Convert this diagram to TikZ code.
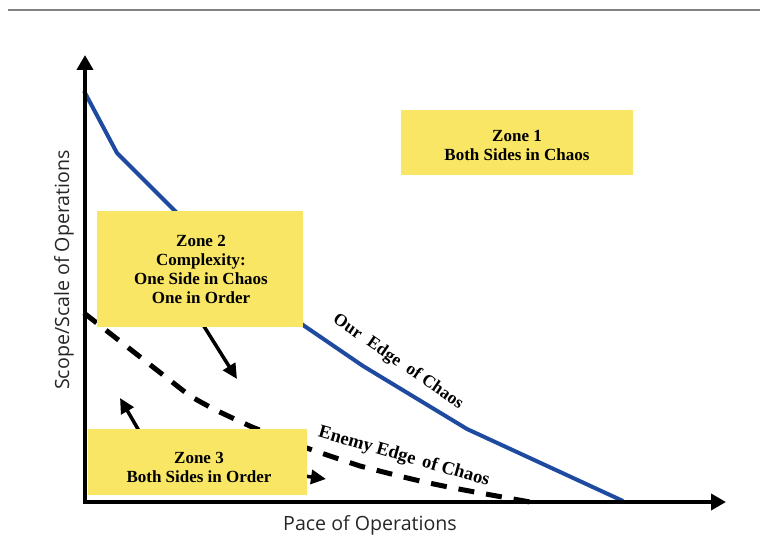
\documentclass[tikz,border=0pt]{standalone}
\usepackage{fontspec}
\setmainfont{Liberation Serif}
\newfontfamily\axisfont{Open Sans}
\usetikzlibrary{arrows.meta}

\definecolor{zoneyellow}{RGB}{248,230,100}
\definecolor{edgeblue}{RGB}{30,74,160}
\definecolor{rulegray}{RGB}{130,130,130}

\tikzset{
  zonebox/.style={fill=zoneyellow, draw=none, inner sep=0pt},
  zonetext/.style={align=center, inner sep=0pt,
    font=\bfseries\fontsize{17}{19}\selectfont},
  edgelabel/.style={font=\bfseries\fontsize{17.5}{19}\selectfont, inner sep=0pt},
  axislabel/.style={font=\axisfont\fontsize{19.6}{22}\selectfont, text=black!85, inner sep=0pt},
  axisline/.style={line width=4pt, -{Triangle[length=15pt, width=16pt]}},
  ouredge/.style={edgeblue, line width=4pt, line join=round},
  enemyedge/.style={black, line width=5pt, dash pattern=on 16pt off 12pt},
  shiftarrow/.style={line width=3.5pt, -{Triangle[length=15pt, width=14pt]}},
}

\begin{document}
\begin{tikzpicture}[x=1pt, y=-1pt]
  \useasboundingbox (0,0) rectangle (760,540);

  % rule along the top of the page
  \draw[rulegray, line width=2pt] (8,10) -- (760,10);

  % origin and axis ends
  \coordinate (origin) at (85,502);
  \coordinate (ytip) at (85,55);
  \coordinate (xtip) at (726,502);

  % our edge of chaos
  \coordinate (o1) at (84,91);
  \coordinate (o2) at (117,153);
  \coordinate (o3) at (175,211);
  \coordinate (o4) at (303,325);
  \coordinate (o5) at (363,366);
  \coordinate (o6) at (467,429);
  \coordinate (o7) at (623,501);
  \draw[ouredge] (o1) -- (o2) -- (o3) -- (o4) -- (o5) -- (o6) -- (o7);

  % enemy edge of chaos
  \coordinate (e1) at (84,313);
  \coordinate (e2) at (190,396);
  \coordinate (e3) at (252,427);
  \coordinate (e4) at (360,466);
  \coordinate (e5) at (530,502);
  \draw[enemyedge] (e1) -- (e2) .. controls (215,410) .. (e3)
    .. controls (300,446) .. (e4) .. controls (430,484) .. (e5);

  % shift arrows between the zones
  \coordinate (a1s) at (195,312);
  \coordinate (a1e) at (237,379);
  \coordinate (a2s) at (142,436);
  \coordinate (a2e) at (120,398);
  \coordinate (a3s) at (290,474);
  \coordinate (a3e) at (326,479);
  \draw[shiftarrow] (a1s) -- (a1e);
  \draw[shiftarrow] (a2s) -- (a2e);
  \draw[shiftarrow] (a3s) -- (a3e);

  % zones
  \node[zonebox, minimum width=232pt, minimum height=65pt] (zone1) at (517,142.5) {};
  \node[zonetext] (zone1text) at (517,145) {Zone 1\\Both Sides in Chaos};
  \node[zonebox, minimum width=206pt, minimum height=116pt] (zone2) at (200,269) {};
  \node[zonetext] (zone2text) at (201,269.5)
    {Zone 2\\Complexity:\\One Side in Chaos\\One in Order};
  \node[zonebox, minimum width=219pt, minimum height=66pt] (zone3) at (197.5,462) {};
  \node[zonetext] (zone3text) at (199,467) {Zone 3\\Both Sides in Order};

  % axes
  \draw[axisline] (origin) -- (ytip);
  \draw[axisline] ([xshift=-2pt]origin) -- (xtip);

  % labels
  \node[edgelabel, rotate=-34.5] (ourlabel) at (398,362)
    {Our\hspace{0.55em}Edge\hspace{0.55em}of Chaos};
  \node[edgelabel, font=\bfseries\fontsize{18.5}{20}\selectfont, rotate=-16]
    (enemylabel) at (404,457) {Enemy Edge\hspace{0.4em}of Chaos};
  \node[axislabel] (xlabel) at (370,525) {Pace of Operations};
  \node[axislabel, rotate=90] (ylabel) at (64,270) {Scope/Scale of Operations};
\end{tikzpicture}
\end{document}
